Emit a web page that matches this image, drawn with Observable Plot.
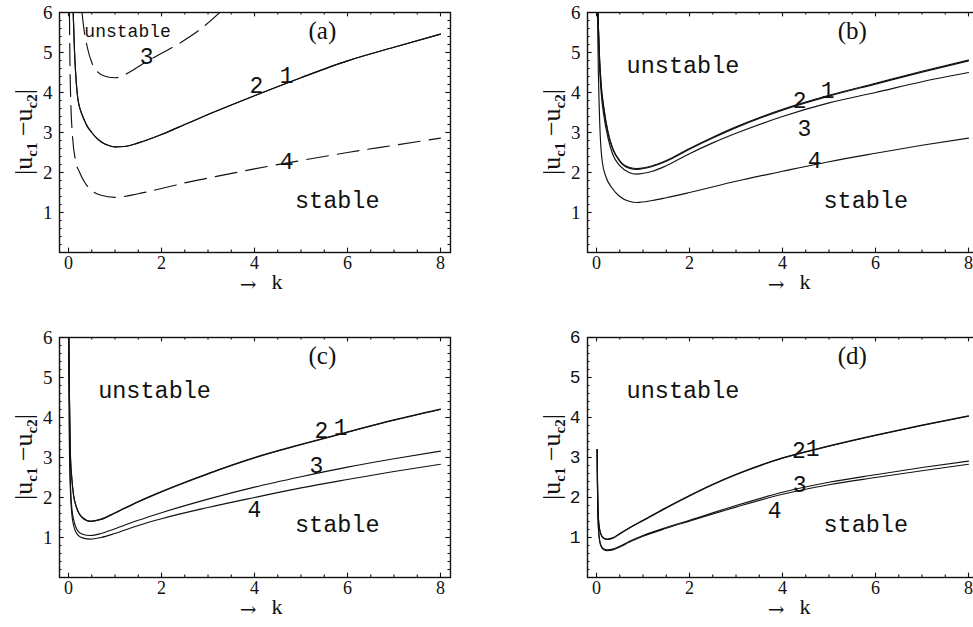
<!DOCTYPE html>
<html><head><meta charset="utf-8">
<script src="https://cdn.jsdelivr.net/npm/d3@7"></script>
<script src="https://cdn.jsdelivr.net/npm/@observablehq/plot@0.6"></script>
<style>
html,body{margin:0;padding:0;background:#fff;overflow:hidden;width:973px;height:627px;}
.panel{position:absolute;width:460px;height:300px;}
</style></head><body>
<div id="pa" class="panel" style="left:0;top:0"></div>
<div id="pb" class="panel" style="left:528px;top:0"></div>
<div id="pc" class="panel" style="left:0;top:325px"></div>
<div id="pd" class="panel" style="left:528px;top:325px"></div>
<script>
// ---- tick values ----
const xMajorTicks = [0, 2, 4, 6, 8];
const xMinorTicks = [0.5, 1, 1.5, 2.5, 3, 3.5, 4.5, 5, 5.5, 6.5, 7, 7.5];
const yMajorTicks = [1, 2, 3, 4, 5, 6];
const yMinorTicks = [0.2,0.4,0.6,0.8,1.2,1.4,1.6,1.8,2.2,2.4,2.6,2.8,3.2,3.4,3.6,3.8,4.2,4.4,4.6,4.8,5.2,5.4,5.6,5.8];

// ---- panel (a) curves [k, |uc1-uc2|] ----
const curveA1 = [[0.1,6.0],[0.115,5.5],[0.13,5.0],[0.15,4.55],[0.17,4.2],[0.2,3.85],[0.24,3.62],[0.29,3.45],[0.35,3.28],[0.41,3.14],[0.5,3.0],[0.58,2.89],[0.7,2.77],[0.85,2.68],[1.0,2.64],[1.2,2.65],[1.5,2.74],[2,2.95],[2.5,3.2],[3,3.45],[4,3.92],[5,4.37],[6,4.79],[7,5.13],[8,5.46]];
const curveA2 = [[0.1,6.0],[0.115,5.5],[0.13,5.0],[0.15,4.55],[0.17,4.2],[0.2,3.85],[0.24,3.62],[0.29,3.45],[0.35,3.28],[0.41,3.14],[0.5,3.0],[0.58,2.89],[0.7,2.77],[0.85,2.68],[1.0,2.64],[1.2,2.65],[1.5,2.74],[2,2.95],[2.5,3.2],[3,3.45],[4,3.92],[5,4.37],[6,4.79],[7,5.13],[8,5.46]];
const curveA3 = [[0.29,6.0],[0.33,5.6],[0.4,5.15],[0.5,4.75],[0.6,4.55],[0.8,4.4],[1.0,4.37],[1.3,4.5],[1.6,4.72],[2.0,4.98],[2.4,5.24],[2.8,5.55],[3.3,6.05]];
const curveA4 = [[0.02,6.0],[0.03,4.8],[0.05,3.7],[0.08,3.0],[0.15,2.3],[0.24,2.0],[0.35,1.75],[0.5,1.55],[0.7,1.43],[1.0,1.38],[1.5,1.47],[2,1.6],[2.5,1.74],[3,1.86],[4,2.09],[5,2.3],[6,2.5],[7,2.68],[8,2.86]];

// ---- panel (b) ----
const curveB1 = [[0.03,6.0],[0.06,5.0],[0.1,4.2],[0.16,3.6],[0.25,3.0],[0.35,2.6],[0.5,2.3],[0.7,2.13],[0.87,2.1],[1.2,2.17],[1.5,2.3],[2,2.6],[2.5,2.88],[3,3.14],[4,3.58],[5,3.93],[6,4.23],[7,4.53],[8,4.81]];
const curveB2 = [[0.03,6.0],[0.06,4.97],[0.1,4.17],[0.16,3.57],[0.25,2.97],[0.35,2.58],[0.5,2.28],[0.7,2.11],[0.87,2.08],[1.2,2.15],[1.5,2.28],[2,2.58],[2.5,2.86],[3,3.12],[4,3.56],[5,3.91],[6,4.21],[7,4.51],[8,4.79]];
const curveB3 = [[0.03,6.0],[0.06,4.8],[0.1,4.0],[0.16,3.4],[0.25,2.85],[0.35,2.45],[0.5,2.17],[0.7,2.0],[0.85,1.96],[1.2,2.03],[1.5,2.17],[2,2.47],[2.5,2.74],[3,2.98],[4,3.4],[5,3.74],[6,4.0],[7,4.27],[8,4.5]];
const curveB4 = [[0.02,6.0],[0.04,4.5],[0.07,3.2],[0.12,2.3],[0.2,1.9],[0.33,1.62],[0.5,1.4],[0.7,1.28],[0.87,1.25],[1.2,1.3],[1.5,1.37],[2,1.5],[3,1.78],[4,2.03],[5,2.27],[6,2.48],[7,2.68],[8,2.86]];

// ---- panel (c) ----
const curveC1 = [[0.005,6.0],[0.02,4.5],[0.04,3.1],[0.07,2.5],[0.11,2.05],[0.16,1.8],[0.22,1.62],[0.3,1.5],[0.47,1.41],[0.7,1.46],[1.0,1.62],[1.5,1.9],[2,2.15],[2.5,2.38],[3,2.6],[4,3.0],[5,3.33],[6,3.64],[7,3.94],[8,4.21]];
const curveC2 = [[0.005,6.0],[0.02,4.48],[0.04,3.08],[0.07,2.48],[0.11,2.04],[0.16,1.79],[0.22,1.61],[0.3,1.49],[0.47,1.40],[0.7,1.45],[1.0,1.61],[1.5,1.89],[2,2.14],[2.5,2.37],[3,2.59],[4,2.99],[5,3.32],[6,3.63],[7,3.93],[8,4.2]];
const curveC3 = [[0.005,6.0],[0.02,3.5],[0.04,2.4],[0.07,1.75],[0.11,1.45],[0.16,1.25],[0.22,1.14],[0.3,1.08],[0.47,1.05],[0.7,1.1],[1,1.22],[1.5,1.43],[2,1.62],[3,1.96],[4,2.26],[5,2.52],[6,2.76],[7,2.97],[8,3.16]];
const curveC4 = [[0.005,6.0],[0.02,3.2],[0.04,2.2],[0.07,1.6],[0.11,1.3],[0.16,1.13],[0.22,1.04],[0.3,0.99],[0.47,0.96],[0.7,1.0],[1,1.1],[1.5,1.3],[2,1.47],[3,1.75],[4,2.0],[5,2.24],[6,2.45],[7,2.65],[8,2.83]];

// ---- panel (d) ----
const curveD1 = [[0.015,3.2],[0.02,2.5],[0.03,1.8],[0.05,1.35],[0.09,1.1],[0.15,0.99],[0.23,0.96],[0.35,0.99],[0.5,1.1],[0.7,1.24],[1,1.43],[1.5,1.75],[2,2.05],[2.5,2.33],[3,2.58],[4,2.99],[5,3.29],[6,3.56],[7,3.81],[8,4.04]];
const curveD2 = [[0.015,3.2],[0.02,2.49],[0.03,1.79],[0.05,1.34],[0.09,1.09],[0.15,0.98],[0.23,0.95],[0.35,0.98],[0.5,1.09],[0.7,1.23],[1,1.42],[1.5,1.74],[2,2.04],[2.5,2.32],[3,2.57],[4,2.98],[5,3.28],[6,3.55],[7,3.8],[8,4.03]];
const curveD3 = [[0.015,3.2],[0.02,2.4],[0.03,1.6],[0.05,1.1],[0.09,0.82],[0.15,0.72],[0.23,0.69],[0.35,0.71],[0.5,0.78],[0.7,0.9],[1,1.05],[1.5,1.25],[2,1.43],[3,1.8],[4,2.13],[5,2.38],[6,2.57],[7,2.75],[8,2.91]];
const curveD4 = [[0.015,3.2],[0.02,2.38],[0.03,1.58],[0.05,1.08],[0.09,0.8],[0.15,0.7],[0.23,0.67],[0.35,0.69],[0.5,0.76],[0.7,0.88],[1,1.03],[1.5,1.23],[2,1.41],[3,1.76],[4,2.08],[5,2.32],[6,2.5],[7,2.67],[8,2.83]];

// ---- curve number labels [k, value, text] ----
const aNumbers = [[4.04,4.18,"2"],[4.69,4.43,"1"],[1.68,4.89,"3"],[4.69,2.27,"4"]];
const bNumbers = [[4.37,3.8,"2"],[4.97,4.05,"1"],[4.47,3.1,"3"],[4.69,2.29,"4"]];
const cNumbers = [[5.44,3.67,"2"],[5.85,3.75,"1"],[5.33,2.8,"3"],[4.0,1.7,"4"]];
const dNumbers = [[4.35,3.18,"2"],[4.65,3.21,"1"],[4.37,2.32,"3"],[3.83,1.66,"4"]];

// ---- region labels [k, value, text] ----
const aUnstable = [[1.27,5.54,"unstable"]];
const aStable = [[5.78,1.3,"stable"]];
const bUnstable = [[1.86,4.68,"unstable"]];
const bStable = [[5.79,1.3,"stable"]];
const cUnstable = [[1.85,4.67,"unstable"]];
const cStable = [[5.78,1.315,"stable"]];
const dUnstable = [[1.86,4.67,"unstable"]];
const dStable = [[5.79,1.315,"stable"]];

// ---- panel tags ----
const aTag = [[5.46,5.54,"(a)"]];
const bTag = [[5.5,5.54,"(b)"]];
const cTag = [[5.46,5.55,"(c)"]];
const dTag = [[5.5,5.55,"(d)"]];

const SERIF = "'Liberation Serif','DejaVu Serif',serif";
const ARROWFONT = "'DejaVu Serif',serif";
const MONO = "'Liberation Mono','DejaVu Sans Mono',monospace";
const INK = "#111";
const XDOM = [-0.194, 8.215];
const YDOM = [0, 6];
const DASH = "22,9";

function makePanel(p) {
  const kx = d => d[0], ky = d => d[1], kt = d => d[2];
  const marks = [
    Plot.ruleX(xMinorTicks, {x: d => d, y1: 0, y2: 0.065, stroke: INK, strokeWidth: 1.1}),
    Plot.ruleX(xMinorTicks, {x: d => d, y1: 6, y2: 5.935, stroke: INK, strokeWidth: 1.1}),
    Plot.ruleX(xMajorTicks, {x: d => d, y1: 0, y2: 0.11, stroke: INK, strokeWidth: 1.1}),
    Plot.ruleX(xMajorTicks, {x: d => d, y1: 6, y2: 5.89, stroke: INK, strokeWidth: 1.1}),
    Plot.ruleY(yMinorTicks, {y: d => d, x1: XDOM[0], x2: XDOM[0] + 0.055, stroke: INK, strokeWidth: 1.1}),
    Plot.ruleY(yMinorTicks, {y: d => d, x1: XDOM[1], x2: XDOM[1] - 0.055, stroke: INK, strokeWidth: 1.1}),
    Plot.ruleY(yMajorTicks, {y: d => d, x1: XDOM[0], x2: XDOM[0] + 0.1, stroke: INK, strokeWidth: 1.1}),
    Plot.ruleY(yMajorTicks, {y: d => d, x1: XDOM[1], x2: XDOM[1] - 0.1, stroke: INK, strokeWidth: 1.1}),
  ];
  for (const c of p.curves) {
    marks.push(Plot.line(c.data, {x: kx, y: ky, curve: "monotone-x", stroke: INK, strokeWidth: 1.15, strokeDasharray: c.dash || null, clip: true}));
  }
  marks.push(
    Plot.frame({stroke: INK, strokeWidth: 1.4}),
    Plot.axisX({ticks: xMajorTicks, tickFormat: d => String(d), tickSize: 0, tickPadding: 4, label: null, fontSize: 18, fontFamily: SERIF}),
    Plot.axisY({ticks: yMajorTicks, tickFormat: d => String(d), tickSize: 0, tickPadding: 7, label: null, fontSize: p.yMono ? 18 : 19, fontFamily: p.yMono ? MONO : SERIF}),
    Plot.text(["\u2192"], {text: d => d, frameAnchor: "bottom", dy: 38, dx: -7, fontSize: 20, fontFamily: ARROWFONT, fill: INK}),
    Plot.text(["k"], {text: d => d, frameAnchor: "bottom", dy: 36, dx: 22, fontSize: 22, fontFamily: SERIF, fill: INK}),
    Plot.text(p.tag, {x: kx, y: ky, text: kt, fontSize: 25, fontFamily: SERIF, fill: INK}),
    Plot.text(p.unstable, {x: kx, y: ky, text: kt, fontSize: p.unstableSize, fontFamily: MONO, fill: INK}),
    Plot.text(p.stable, {x: kx, y: ky, text: kt, fontSize: 23.5, fontFamily: MONO, fill: INK}),
    Plot.text(p.numbers, {x: kx, y: ky, text: kt, fontSize: 23, fontFamily: MONO, fill: INK})
  );
  const svg = Plot.plot({
    width: 460, height: 300,
    marginLeft: 59, marginRight: 10, marginTop: 12, marginBottom: 48,
    x: {domain: XDOM},
    y: {domain: YDOM},
    style: {background: "transparent", color: INK, overflow: "visible"},
    marks
  });
  const t = d3.select(svg).append("text")
    .attr("transform", "translate(32,132) rotate(-90)")
    .attr("text-anchor", "middle")
    .attr("font-family", SERIF)
    .attr("font-size", 26)
    .attr("fill", INK);
  t.append("tspan").text("|u");
  t.append("tspan").attr("font-size", 15).attr("font-weight", "bold").attr("dy", 5).text("c1");
  t.append("tspan").attr("dy", -5).text(" \u2212u");
  t.append("tspan").attr("font-size", 15).attr("font-weight", "bold").attr("dy", 5).text("c2");
  t.append("tspan").attr("dy", -5).text("|");
  return svg;
}

const panels = [
  {id: "pa", curves: [{data: curveA1}, {data: curveA2}, {data: curveA3, dash: DASH}, {data: curveA4, dash: DASH}], numbers: aNumbers, unstable: aUnstable, unstableSize: 18, stable: aStable, tag: aTag},
  {id: "pb", curves: [{data: curveB1}, {data: curveB2}, {data: curveB3}, {data: curveB4}], numbers: bNumbers, unstable: bUnstable, unstableSize: 23.5, stable: bStable, tag: bTag},
  {id: "pc", curves: [{data: curveC1}, {data: curveC2}, {data: curveC3}, {data: curveC4}], numbers: cNumbers, unstable: cUnstable, unstableSize: 23.5, stable: cStable, tag: cTag},
  {id: "pd", curves: [{data: curveD1}, {data: curveD2}, {data: curveD3}, {data: curveD4}], numbers: dNumbers, unstable: dUnstable, unstableSize: 23.5, stable: dStable, tag: dTag, yMono: true}
];
for (const p of panels) document.getElementById(p.id).appendChild(makePanel(p));
</script>
</body></html>
